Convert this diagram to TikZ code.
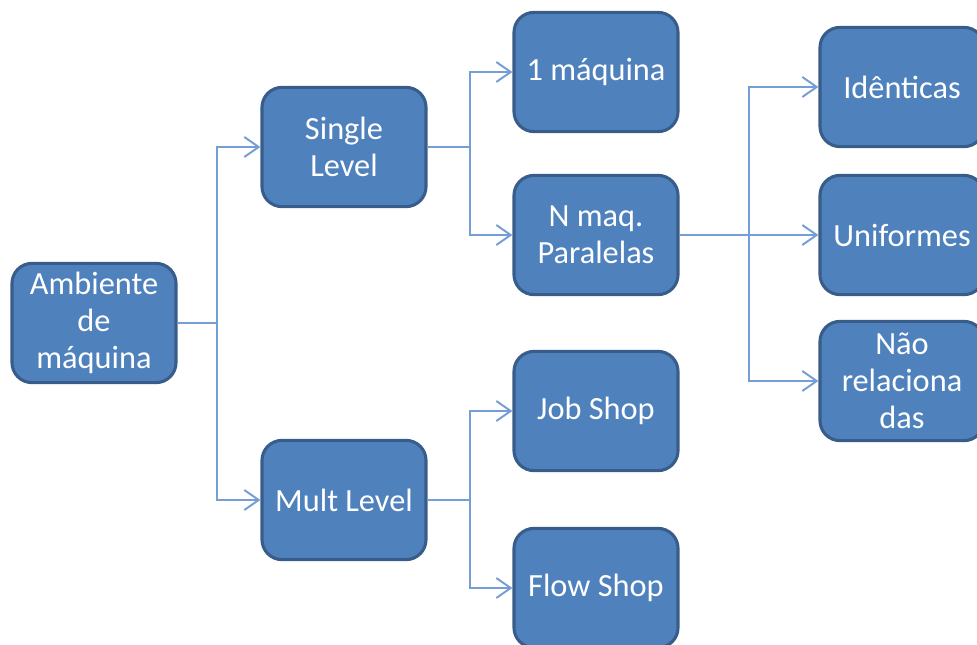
\documentclass[tikz,border=0pt]{standalone}
\usepackage{fontspec}
\setmainfont{Carlito}
\usepackage{tikz}
\usetikzlibrary{arrows.meta, positioning}
\definecolor{boxblue}{RGB}{79, 129, 189}
\definecolor{boxedge}{RGB}{56, 93, 138}
\definecolor{linkblue}{RGB}{118, 158, 214}

\begin{document}
\begin{tikzpicture}[x=0.025cm, y=-0.025cm,
    blk/.style={draw=boxedge, fill=boxblue, line width=2.2pt, rounded corners=0.5cm,
                minimum width=4.1cm, minimum height=2.98cm, text=white, align=center,
                inner sep=0pt, font=\fontsize{23}{26.3}\selectfont},
    lnk/.style={draw=linkblue, line width=1.4pt},
    tip/.style={lnk, -{Straight Barb[length=0.36cm, width=0.5cm, line width=1.4pt]}}]
    \clip (0,0) rectangle (977,644);

    % Root
    \node[blk] (amb) at (94,323) {Ambiente\\de\\máquina};

    % Levels
    \node[blk] (sl) at (344,147) {Single\\Level};
    \node[blk] (ml) at (344,500) {Mult Level};

    % Single level children
    \node[blk] (m1) at (596,72) {1 máquina};
    \node[blk] (np) at (596,235) {N maq.\\Paralelas};

    % Mult level children
    \node[blk] (js) at (596,411) {Job Shop};
    \node[blk] (fs) at (596,588) {Flow Shop};

    % Parallel machines
    \node[blk] (id) at (902,87) {Idênticas};
    \node[blk] (un) at (902,235) {Uniformes};
    \node[blk] (nr) at (902,381) {Não\\relaciona\\das};

    % Junctions
    \coordinate (j1) at (217,323);
    \coordinate (j2) at (470,147);
    \coordinate (j3) at (470,500);
    \coordinate (j4) at (749,235);

    % Connections
    \draw[lnk] (amb) -- (j1);
    \draw[tip] (j1) |- (sl.west);
    \draw[tip] (j1) |- (ml.west);

    \draw[lnk] (sl) -- (j2);
    \draw[tip] (j2) |- (m1.west);
    \draw[tip] (j2) |- (np.west);

    \draw[lnk] (ml) -- (j3);
    \draw[tip] (j3) |- (js.west);
    \draw[tip] (j3) |- (fs.west);

    \draw[lnk] (np) -- (j4);
    \draw[tip] (j4) |- (id.west);
    \draw[tip] (j4) -- (un.west);
    \draw[tip] (j4) |- (nr.west);
  \end{tikzpicture}
\end{document}
